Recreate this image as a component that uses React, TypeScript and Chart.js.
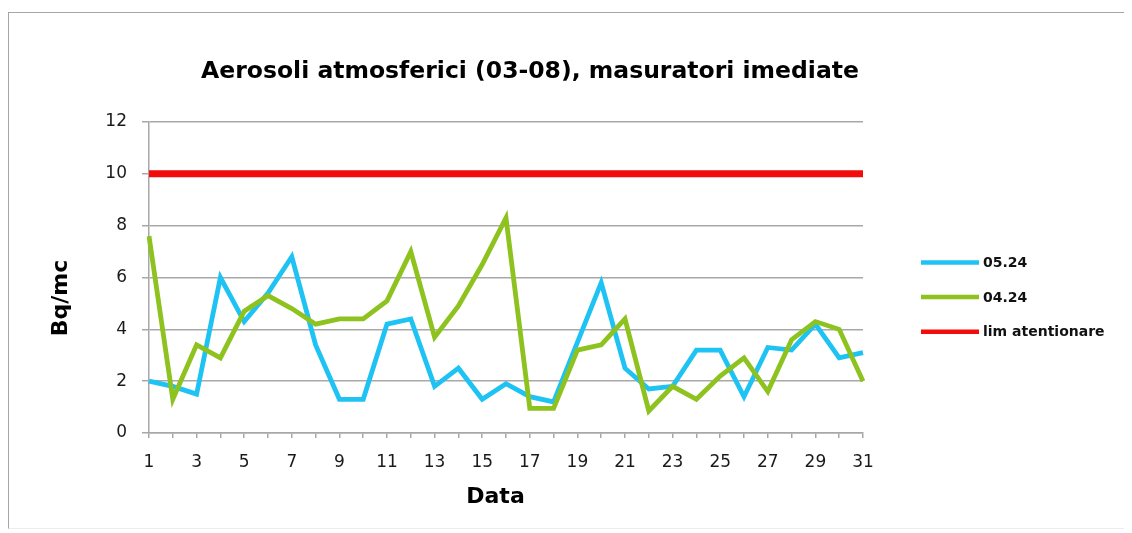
import { useEffect, useRef } from "react";
import { Chart, registerables } from "chart.js";

Chart.register(...registerables);

const titleText = "Aerosoli atmosferici (03-08), masuratori imediate";
const xTitle = "Data";
const yTitle = "Bq/mc";

const categories = [
  "1", "2", "3", "4", "5", "6", "7", "8", "9", "10",
  "11", "12", "13", "14", "15", "16", "17", "18", "19", "20",
  "21", "22", "23", "24", "25", "26", "27", "28", "29", "30", "31",
];

const series0524 = [
  2.0, 1.8, 1.5, 6.0, 4.3, 5.4, 6.8, 3.4, 1.3, 1.3,
  4.2, 4.4, 1.8, 2.5, 1.3, 1.9, 1.4, 1.2, 3.5, 5.8,
  2.5, 1.7, 1.8, 3.2, 3.2, 1.4, 3.3, 3.2, 4.2, 2.9, 3.1,
];

const series0424 = [
  7.6, 1.3, 3.4, 2.9, 4.7, 5.3, 4.8, 4.2, 4.4, 4.4,
  5.1, 7.0, 3.7, 4.9, 6.5, 8.3, 0.95, 0.95, 3.2, 3.4,
  4.4, 0.85, 1.8, 1.3, 2.2, 2.9, 1.6, 3.6, 4.3, 4.0, 2.0,
];

const limit = [
  10, 10, 10, 10, 10, 10, 10, 10, 10, 10,
  10, 10, 10, 10, 10, 10, 10, 10, 10, 10,
  10, 10, 10, 10, 10, 10, 10, 10, 10, 10, 10,
];

const seriesLabels = ["05.24", "04.24", "lim atentionare"];
const yTickValues = [0, 2, 4, 6, 8, 10, 12];

const FONT = '"DejaVu Sans", "Liberation Sans", Arial, sans-serif';
const GRID = "#a8a8a8";

const overlay = {
  id: "overlay",
  afterDraw(chart: any) {
    const ctx = chart.ctx as CanvasRenderingContext2D;
    ctx.save();
    ctx.fillStyle = "#000";
    ctx.textAlign = "center";
    ctx.textBaseline = "alphabetic";
    ctx.font = `bold 23.5px ${FONT}`;
    ctx.fillText(titleText, 521, 65);
    ctx.font = `bold 22px ${FONT}`;
    ctx.fillText(xTitle, 486.5, 490);
    ctx.save();
    ctx.translate(58, 285);
    ctx.rotate(-Math.PI / 2);
    ctx.fillText(yTitle, 0, 0);
    ctx.restore();

    // legend
    ctx.textAlign = "left";
    ctx.textBaseline = "middle";
    ctx.font = `bold 14px ${FONT}`;
    chart.data.datasets.forEach((ds: any, i: number) => {
      const y = 249.5 + i * 34.6;
      ctx.strokeStyle = ds.borderColor;
      ctx.lineWidth = 4.5;
      ctx.lineCap = "butt";
      ctx.beginPath();
      ctx.moveTo(912, y);
      ctx.lineTo(970, y);
      ctx.stroke();
      ctx.fillStyle = "#111";
      ctx.fillText(ds.label, 974, y + 1);
    });
    ctx.restore();
  },
};

export default function App() {
  const ref = useRef<HTMLCanvasElement | null>(null);

  useEffect(() => {
    if (!ref.current) return;
    const chart = new Chart(ref.current, {
      type: "line",
      data: {
        labels: categories,
        datasets: [
          {
            label: seriesLabels[0],
            data: series0524,
            borderColor: "#1fc3f3",
            backgroundColor: "#1fc3f3",
            borderWidth: 4.8,
            pointRadius: 0,
            tension: 0,
            order: 2,
          },
          {
            label: seriesLabels[1],
            data: series0424,
            borderColor: "#8dc21f",
            backgroundColor: "#8dc21f",
            borderWidth: 4.8,
            pointRadius: 0,
            tension: 0,
            order: 1,
          },
          {
            label: seriesLabels[2],
            data: limit,
            borderColor: "#f20c0c",
            backgroundColor: "#f20c0c",
            borderWidth: 7,
            pointRadius: 0,
            tension: 0,
            order: 0,
          },
        ],
      },
      options: {
        responsive: false,
        animation: false,
        devicePixelRatio: 1,
        layout: { padding: { left: 80, right: 269, top: 109, bottom: 45 } },
        plugins: {
          legend: { display: false },
          title: { display: false },
          tooltip: { enabled: false },
        },
        scales: {
          x: {
            type: "category",
            offset: false,
            afterFit: (s: any) => {
              s.height = 50;
            },
            grid: {
              drawOnChartArea: false,
              drawTicks: true,
              tickLength: 5,
              color: GRID,
              lineWidth: 1.5,
            },
            border: { display: true, color: GRID, width: 1.5 },
            ticks: {
              autoSkip: false,
              maxRotation: 0,
              padding: 14,
              color: "#1a1a1a",
              font: { family: FONT, size: 17 },
              callback: (_v: any, idx: number) => (idx % 2 === 0 ? categories[idx] : ""),
            },
          },
          y: {
            min: 0,
            max: 12,
            afterFit: (s: any) => {
              s.width = 60;
            },
            afterBuildTicks: (s: any) => {
              s.ticks = yTickValues.map((v) => ({ value: v }));
            },
            grid: {
              color: GRID,
              lineWidth: 1.5,
              tickLength: 7,
            },
            border: { display: true, color: GRID, width: 1.5 },
            ticks: {
              padding: 15,
              color: "#1a1a1a",
              font: { family: FONT, size: 17 },
            },
          },
        },
      },
      plugins: [overlay],
    });
    return () => chart.destroy();
  }, []);

  return (
    <div style={{ paddingTop: 4 }}>
      <div
        style={{
          width: 1123,
          height: 515,
          marginRight: -8,
          borderTop: "1px solid #a6a6a6",
          borderLeft: "1px solid #a6a6a6",
          borderBottom: "1px solid #ececec",
          background: "#fff",
        }}
      >
        <canvas ref={ref} width={1123} height={515} style={{ display: "block" }} />
      </div>
    </div>
  );
}
